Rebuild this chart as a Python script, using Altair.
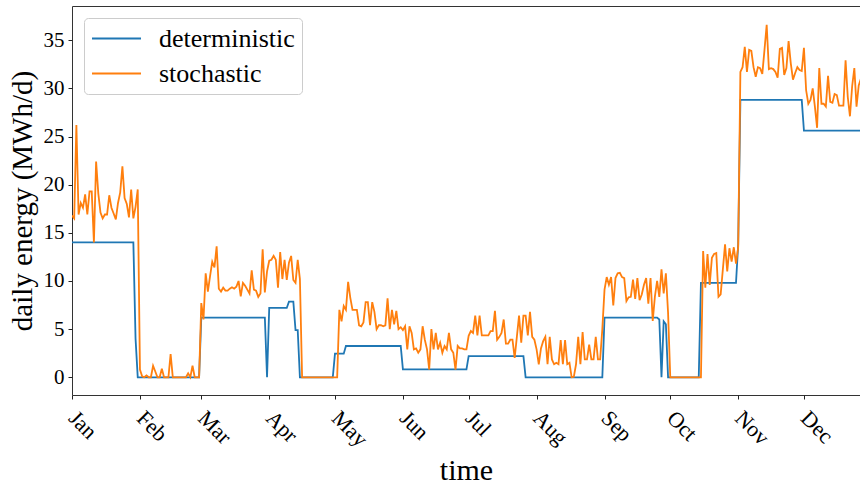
import altair as alt
import numpy as np
import pandas as pd

# Stochastic daily energy (MWh/d), one list per month
stoch_jan = [16.8, 16.5, 26.2, 16.9, 18.1, 17.6, 19.0, 16.9, 19.3, 19.3, 14.0, 22.4, 19.1, 17.1, 16.5, 16.9,
             16.9, 18.9, 17.6, 17.0, 16.4, 18.1, 19.2, 21.9, 18.6, 18.0, 16.6, 19.5, 16.5, 17.7, 19.5]
stoch_feb = [0.8, 0.1, 0.0, 0.2, 0.0, 0.0, 1.2, 0.6, 0.0, 0.0, 0.9, 0.0, 0.0, 0.0, 2.4, 0.0, 0.0, 0.0,
             0.0, 0.0, 0.0, 0.0, 0.4, 0.0, 1.2, 0.0, 0.0, 0.0]
stoch_mar = [7.7, 6.0, 10.8, 8.9, 10.5, 12.0, 11.4, 13.6, 9.2, 8.9, 9.3, 9.0, 9.0, 9.2, 9.35, 9.2, 9.4,
             10.0, 8.4, 9.8, 9.5, 9.1, 8.7, 11.1, 9.1, 9.0, 8.35, 8.7, 13.3, 8.8, 11.0]
stoch_apr = [12.1, 12.2, 12.6, 12.2, 9.3, 13.0, 10.2, 12.2, 10.1, 11.9, 12.6, 10.1, 9.8, 12.2, 10.2,
             0.0, 0.0, 0.0, 0.0, 0.0, 0.0, 0.0, 0.0, 0.0, 0.0, 0.0, 0.0, 0.0, 0.0, 0.0]
stoch_may = [0.0, 0.0, 7.0, 5.8, 7.4, 7.0, 9.9, 8.25, 7.0, 7.0, 7.0, 5.4, 5.3, 5.7, 7.8, 7.8, 5.4, 7.8,
             6.8, 5.0, 5.4, 5.4, 5.3, 5.4, 8.2, 5.0, 7.0, 5.5, 6.9, 5.0, 5.2]
stoch_jun = [4.9, 5.3, 2.9, 5.3, 4.6, 2.9, 3.0, 2.55, 2.9, 5.3, 3.9, 2.9, 0.8, 5.0, 2.9, 4.6, 2.9, 3.6,
             2.55, 3.25, 2.9, 4.6, 2.9, 2.55, 0.8, 3.25, 3.0, 3.0, 2.9, 2.9]
stoch_jul = [4.3, 4.8, 4.6, 6.4, 4.35, 6.4, 4.35, 4.35, 4.35, 4.35, 4.8, 4.8, 6.9, 3.9, 4.2, 4.6, 6.0,
             3.5, 3.5, 3.9, 3.9, 2.0, 4.2, 6.4, 3.6, 6.4, 6.4, 4.35, 6.8, 4.2, 3.9]
stoch_aug = [2.9, 1.35, 3.0, 3.75, 4.2, 1.35, 4.2, 1.85, 1.35, 1.5, 1.35, 3.85, 1.35, 3.85, 1.35, 1.5,
             0.0, 0.05, 1.35, 4.2, 1.35, 4.7, 1.85, 1.85, 3.4, 1.85, 1.85, 4.2, 1.85, 1.85, 5.0]
stoch_sep = [9.1, 10.4, 9.6, 10.4, 7.45, 10.3, 10.8, 10.85, 10.4, 10.3, 7.9, 8.3, 8.35, 10.15, 8.15,
             10.3, 8.0, 8.6, 9.6, 10.3, 7.65, 10.3, 5.85, 8.4, 10.0, 8.35, 11.2, 8.7, 10.8, 6.7]
stoch_oct = [0.0, 0.0, 0.0, 0.0, 0.0, 0.0, 0.0, 0.0, 0.0, 0.0, 0.0, 0.0, 0.0, 0.0, 0.0,
             13.1, 9.3, 12.8, 9.6, 12.4, 12.8, 12.9, 8.35, 8.6, 11.2, 13.8, 11.0, 13.4, 12.0, 13.5, 11.8]
stoch_nov = [13.5, 31.7, 32.2, 34.3, 31.7, 34.0, 33.9, 32.2, 31.2, 32.2, 32.1, 31.5, 34.0, 36.6, 32.0,
             32.1, 32.0, 31.7, 31.1, 34.1, 34.2, 31.4, 32.1, 34.9, 32.6, 30.9, 31.6, 32.2, 31.9, 31.8]
stoch_dec = [34.2, 29.8, 28.4, 28.8, 30.0, 28.1, 25.9, 32.1, 28.4, 28.4, 28.1, 31.3, 28.6, 28.5, 29.4,
             29.3, 28.2, 28.2, 28.2, 32.9, 29.1, 27.1, 30.2, 32.1, 28.1, 30.3, 31.0]

# Deterministic schedule: constant levels (MWh/d) and how many days each lasts
det_levels = [14.0, 4.0, 0.0, 6.2, 0.0, 7.2, 7.85, 4.9, 0.0, 2.45, 3.25, 0.83, 2.2, 0.0,
              6.2, 6.0, 0.0, 5.8, 5.5, 0.0, 9.8, 13.8, 28.8, 25.6]
det_days = [29, 1, 29, 30, 1, 9, 3, 2, 16, 5, 26, 30, 26, 36,
            25, 1, 1, 1, 1, 15, 17, 1, 29, 27]

series_names = ["deterministic", "stochastic"]
series_colors = ["#1f77b4", "#ff7f0e"]

stochastic = (stoch_jan + stoch_feb + stoch_mar + stoch_apr + stoch_may + stoch_jun +
              stoch_jul + stoch_aug + stoch_sep + stoch_oct + stoch_nov + stoch_dec)
deterministic = np.repeat(det_levels, det_days)
dates = pd.date_range("2017-01-01", periods=len(stochastic), freq="D").strftime("%Y-%m-%d")

df = pd.DataFrame({"date": dates, "deterministic": deterministic, "stochastic": stochastic})
long = df.melt("date", var_name="series", value_name="energy")

serif = "Liberation Serif"

x = alt.X("date:T",
          scale=alt.Scale(type="utc", domain=["2017-01-01", "2017-12-26T14:00:00"], nice=False),
          axis=alt.Axis(title="time", format="%b", tickCount="month", labelAngle=45,
                        labelAlign="left", labelBaseline="top", labelOverlap=False, labelFlush=False,
                        labelFontSize=22, labelPadding=8, labelOffset=7, tickSize=4, tickColor="#222",
                        titleFontSize=30, titleFontWeight="normal", titleY=84,
                        titleBaseline="alphabetic", domain=False, grid=False))
y = alt.Y("energy:Q",
          scale=alt.Scale(domain=[-1.84, 38.55], nice=False, zero=False),
          axis=alt.Axis(title="daily energy (MWh/d)", values=[0, 5, 10, 15, 20, 25, 30, 35],
                        labelFontSize=21, labelPadding=4, tickSize=4, tickColor="#222",
                        titleFontSize=29, titleFontWeight="normal", titlePadding=6,
                        domain=False, grid=False))
color = alt.Color("series:N",
                  scale=alt.Scale(domain=series_names, range=series_colors),
                  legend=alt.Legend(title=None, orient="top-left", offset=12))

base = alt.Chart(long).mark_line(strokeWidth=1.8, clip=True).encode(x=x, y=y, color=color)

det_layer = base.transform_filter(alt.datum.series == "deterministic")
sto_layer = base.transform_filter(alt.datum.series == "stochastic")

chart = alt.layer(det_layer, sto_layer).properties(
    width=788, height=389,
    autosize=alt.AutoSizeParams(type="none"),
    padding={"left": 72, "top": 6, "right": 0, "bottom": 91},
).configure(font=serif).configure_view(
    stroke="#333", strokeWidth=1
).configure_axis(
    labelFont=serif, titleFont=serif, labelColor="#000", titleColor="#000"
).configure_legend(
    labelFont=serif, labelFontSize=26, labelColor="#000",
    symbolType="M-2,0H2", symbolSize=600, symbolStrokeWidth=2, symbolFillColor="transparent",
    padding=7, rowPadding=8, labelOffset=29, symbolOffset=12,
    strokeColor="#cccccc", fillColor="rgba(255,255,255,0.85)", cornerRadius=4
)

chart.save("out.html", embed_options={"renderer": "svg", "actions": False})
